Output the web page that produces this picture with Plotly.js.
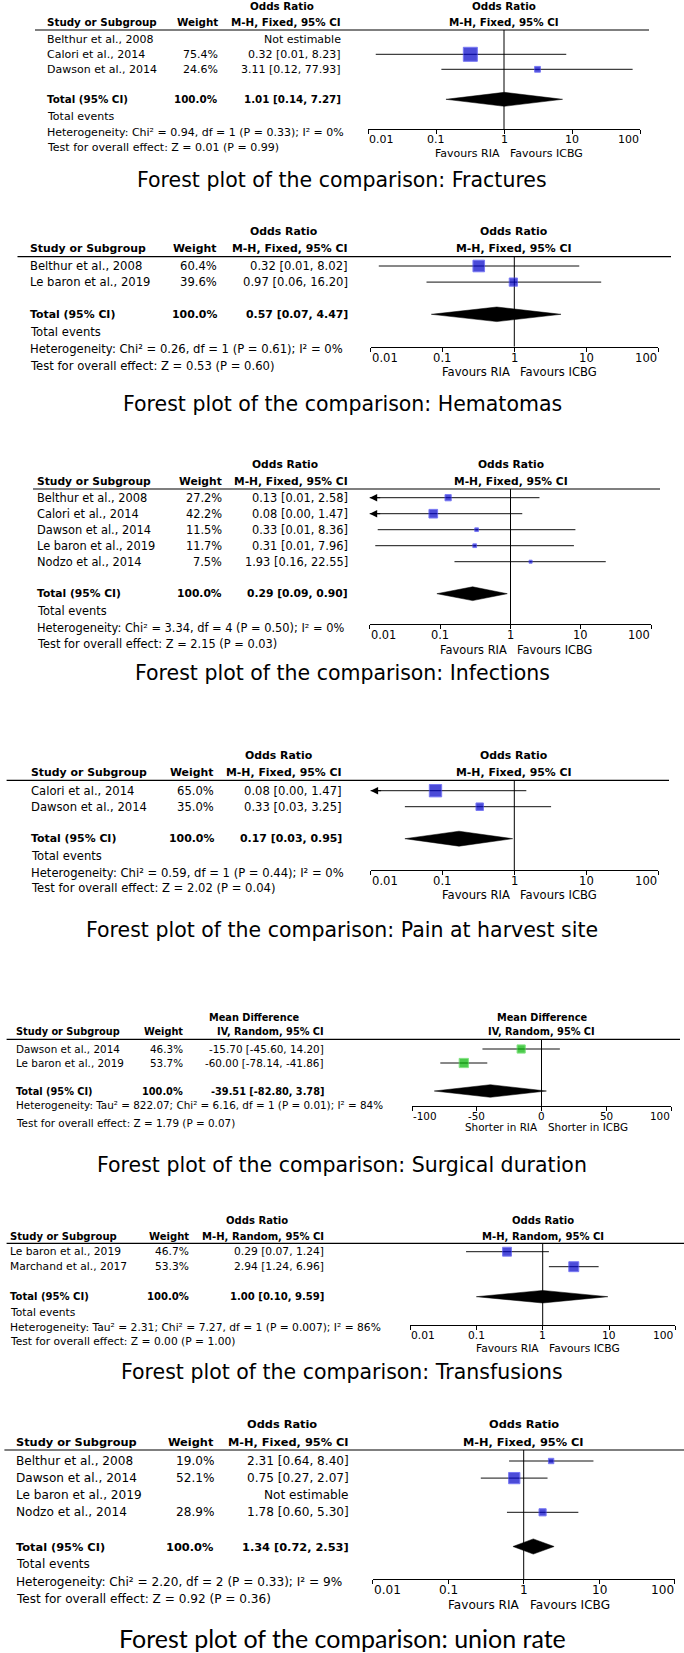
<!DOCTYPE html>
<html>
<head>
<meta charset="utf-8">
<script src="https://cdn.plot.ly/plotly-3.0.1.min.js"></script>
<style>html,body{margin:0;padding:0;background:#fff}#chart{width:684px;height:1653px}</style>
</head>
<body>
<div id="chart"></div>
<script>
// ---------------- DATA ----------------
const titles = [
  "Forest plot of the comparison: Fractures",
  "Forest plot of the comparison: Hematomas",
  "Forest plot of the comparison: Infections",
  "Forest plot of the comparison: Pain at harvest site",
  "Forest plot of the comparison: Surgical duration",
  "Forest plot of the comparison: Transfusions",
  "Forest plot of the comparison: union rate"
];

// Fractures
const fracStudy = ["Belthur et al., 2008", "Calori et al., 2014", "Dawson et al., 2014"];
const fracWeight = [null, 75.4, 24.6];
const fracOR = [null, 0.32, 3.11];
const fracLo = [null, 0.013, 0.12];
const fracHi = [null, 8.23, 77.93];
const fracTotal = [100.0, 1.01, 0.14, 7.27];
const fracHet = "Heterogeneity: Chi² = 0.94, df = 1 (P = 0.33); I² = 0%";
const fracTest = "Test for overall effect: Z = 0.01 (P = 0.99)";

// Hematomas
const hemStudy = ["Belthur et al., 2008", "Le baron et al., 2019"];
const hemWeight = [60.4, 39.6];
const hemOR = [0.32, 0.97];
const hemLo = [0.013, 0.06];
const hemHi = [8.02, 16.20];
const hemTotal = [100.0, 0.57, 0.07, 4.47];
const hemHet = "Heterogeneity: Chi² = 0.26, df = 1 (P = 0.61); I² = 0%";
const hemTest = "Test for overall effect: Z = 0.53 (P = 0.60)";

// Infections
const infStudy = ["Belthur et al., 2008", "Calori et al., 2014", "Dawson et al., 2014", "Le baron et al., 2019", "Nodzo et al., 2014"];
const infWeight = [27.2, 42.2, 11.5, 11.7, 7.5];
const infOR = [0.13, 0.08, 0.33, 0.31, 1.93];
const infLo = [0.007, 0.004, 0.013, 0.012, 0.16];
const infHi = [2.58, 1.47, 8.36, 7.96, 22.55];
const infTotal = [100.0, 0.29, 0.09, 0.90];
const infHet = "Heterogeneity: Chi² = 3.34, df = 4 (P = 0.50); I² = 0%";
const infTest = "Test for overall effect: Z = 2.15 (P = 0.03)";

// Pain at harvest site
const painStudy = ["Calori et al., 2014", "Dawson et al., 2014"];
const painWeight = [65.0, 35.0];
const painOR = [0.08, 0.33];
const painLo = [0.004, 0.03];
const painHi = [1.47, 3.25];
const painTotal = [100.0, 0.17, 0.03, 0.95];
const painHet = "Heterogeneity: Chi² = 0.59, df = 1 (P = 0.44); I² = 0%";
const painTest = "Test for overall effect: Z = 2.02 (P = 0.04)";

// Surgical duration (mean difference)
const durStudy = ["Dawson et al., 2014", "Le baron et al., 2019"];
const durWeight = [46.3, 53.7];
const durMD = [-15.70, -60.00];
const durLo = [-45.60, -78.14];
const durHi = [14.20, -41.86];
const durTotal = [100.0, -39.51, -82.80, 3.78];
const durHet = "Heterogeneity: Tau² = 822.07; Chi² = 6.16, df = 1 (P = 0.01); I² = 84%";
const durTest = "Test for overall effect: Z = 1.79 (P = 0.07)";

// Transfusions
const trfStudy = ["Le baron et al., 2019", "Marchand et al., 2017"];
const trfWeight = [46.7, 53.3];
const trfOR = [0.29, 2.94];
const trfLo = [0.07, 1.24];
const trfHi = [1.24, 6.96];
const trfTotal = [100.0, 1.00, 0.10, 9.59];
const trfHet = "Heterogeneity: Tau² = 2.31; Chi² = 7.27, df = 1 (P = 0.007); I² = 86%";
const trfTest = "Test for overall effect: Z = 0.00 (P = 1.00)";

// Union rate
const uniStudy = ["Belthur et al., 2008", "Dawson et al., 2014", "Le baron et al., 2019", "Nodzo et al., 2014"];
const uniWeight = [19.0, 52.1, null, 28.9];
const uniOR = [2.31, 0.75, null, 1.78];
const uniLo = [0.64, 0.27, null, 0.60];
const uniHi = [8.40, 2.07, null, 5.30];
const uniTotal = [100.0, 1.34, 0.72, 2.53];
const uniHet = "Heterogeneity: Chi² = 2.20, df = 2 (P = 0.33); I² = 9%";
const uniTest = "Test for overall effect: Z = 0.92 (P = 0.36)";

const orTicks = [0.01, 0.1, 1, 10, 100];
const orTickText = ["0.01", "0.1", "1", "10", "100"];
const mdTicks = [-100, -50, 0, 50, 100];
const mdTickText = ["-100", "-50", "0", "50", "100"];
const favOR = ["Favours RIA", "Favours ICBG"];
const favMD = ["Shorter in RIA", "Shorter in ICBG"];

const panels = [
  {study: fracStudy, weight: fracWeight, est: fracOR, lo: fracLo, hi: fracHi, tot: fracTotal, het: fracHet, test: fracTest, measure: "Odds Ratio", method: "M-H, Fixed, 95% CI", scale: "log", fav: favOR, events: true, color: "blue"},
  {study: hemStudy, weight: hemWeight, est: hemOR, lo: hemLo, hi: hemHi, tot: hemTotal, het: hemHet, test: hemTest, measure: "Odds Ratio", method: "M-H, Fixed, 95% CI", scale: "log", fav: favOR, events: true, color: "blue"},
  {study: infStudy, weight: infWeight, est: infOR, lo: infLo, hi: infHi, tot: infTotal, het: infHet, test: infTest, measure: "Odds Ratio", method: "M-H, Fixed, 95% CI", scale: "log", fav: favOR, events: true, color: "blue"},
  {study: painStudy, weight: painWeight, est: painOR, lo: painLo, hi: painHi, tot: painTotal, het: painHet, test: painTest, measure: "Odds Ratio", method: "M-H, Fixed, 95% CI", scale: "log", fav: favOR, events: true, color: "blue"},
  {study: durStudy, weight: durWeight, est: durMD, lo: durLo, hi: durHi, tot: durTotal, het: durHet, test: durTest, measure: "Mean Difference", method: "IV, Random, 95% CI", scale: "linear", fav: favMD, events: false, color: "green"},
  {study: trfStudy, weight: trfWeight, est: trfOR, lo: trfLo, hi: trfHi, tot: trfTotal, het: trfHet, test: trfTest, measure: "Odds Ratio", method: "M-H, Random, 95% CI", scale: "log", fav: favOR, events: true, color: "blue"},
  {study: uniStudy, weight: uniWeight, est: uniOR, lo: uniLo, hi: uniHi, tot: uniTotal, het: uniHet, test: uniTest, measure: "Odds Ratio", method: "M-H, Fixed, 95% CI", scale: "log", fav: favOR, events: true, color: "blue"}
];

// ---------------- LAYOUT GEOMETRY (pixels) ----------------
const W = 684, H = 1653;
const F = "DejaVu Sans, Verdana, sans-serif";
const geo = [
  {h1: 6, h2: 22, rule: 30, ruleX: [35, 649], row1: 39.3, sp: 15, tev: 116.7, het: 132.7, test: 147.3, axis: 129.3, tl: 10.7, fav: 154, title: 180, nameX: 46, wRX: 219, ciRX: 342, h1CX: 282, axX: [368, 640], font: 11.0, dh: 7, mk: 1.0, tf: {family: F, size: 20.5}},
  {h1: 231.7, h2: 248.3, rule: 256.7, ruleX: [17.5, 671], row1: 266, sp: 16.1, tev: 332.3, het: 349.3, test: 366, axis: 346.7, tl: 11.6, fav: 371.7, title: 404, nameX: 28.5, wRX: 218.4, ciRX: 348.7, h1CX: 283.5, axX: [370.6, 658], font: 11.6, dh: 7.3, mk: 1.0, tf: {family: F, size: 20.5}},
  {h1: 464.3, h2: 481, rule: 489, ruleX: [33, 660], row1: 497.7, sp: 16.0, tev: 610.7, het: 628, test: 644, axis: 624, tl: 11, fav: 650, title: 673.3, nameX: 36.4, wRX: 222.8, ciRX: 348.7, h1CX: 285, axX: [369.7, 651.3], font: 11.4, dh: 6.9, mk: 1.0, tf: {family: F, size: 20.5}},
  {h1: 755.7, h2: 772.3, rule: 780.3, ruleX: [6.6, 669], row1: 790.7, sp: 16, tev: 856, het: 872.7, test: 888.3, axis: 870, tl: 10.7, fav: 895, title: 930, nameX: 29.8, wRX: 215, ciRX: 343, h1CX: 278.5, axX: [370.6, 658], font: 11.6, dh: 7.5, mk: 1.0, tf: {family: F, size: 20.5}},
  {h1: 1017.7, h2: 1031.7, rule: 1039.3, ruleX: [6.6, 680], row1: 1049, sp: 14, tev: null, het: 1105, test: 1122.5, axis: 1106, tl: 9.5, fav: 1127, title: 1165, nameX: 15.4, wRX: 184, ciRX: 324.6, h1CX: 254.4, axX: [412, 671], font: 10.4, dh: 6.3, mk: 0.88, tf: {family: F, size: 20.5}},
  {h1: 1220, h2: 1236, rule: 1243.3, ruleX: [6.6, 684], row1: 1251.7, sp: 15, tev: 1312.7, het: 1327.3, test: 1341.7, axis: 1325, tl: 10.3, fav: 1348.3, title: 1371.7, nameX: 8.8, wRX: 189.5, ciRX: 324.6, h1CX: 256.6, axX: [410, 675.4], font: 10.7, dh: 6.3, mk: 0.95, tf: {family: F, size: 20.5}},
  {h1: 1424.3, h2: 1441.7, rule: 1450, ruleX: [4.4, 684], row1: 1461, sp: 17.1, tev: 1564.3, het: 1581.7, test: 1599, axis: 1579, tl: 11, fav: 1605, title: 1638, nameX: 15.4, wRX: 215, ciRX: 350, h1CX: 282, axX: [372.8, 674.6], font: 12.1, dh: 7.6, mk: 1.1, tf: {family: "Lato, Open Sans, sans-serif", size: 25}}
];
const BOLD = 0.94; // bold glyphs of the fallback font run wider than the original

const COLORS = {
  blue: {fill: "#0000c8", edge: "#4040f0"},
  green: {fill: "#00b400", edge: "#50d850"}
};

// ---------------- BUILD ----------------
const traces = [], shapes = [], annotations = [];
const layout = {
  width: W, height: H, margin: {l: 0, r: 0, t: 0, b: 0},
  paper_bgcolor: "#fff", plot_bgcolor: "rgba(0,0,0,0)",
  showlegend: false, hovermode: false
};
const py = px => 1 - px / H;
const pxX = px => px / W;
const f2 = v => v.toFixed(2);
const ci = (e, l, h) => f2(e) + " [" + f2(l) + ", " + f2(h) + "]";

function note(text, x, xref, y, yref, xanchor, size, extra) {
  annotations.push(Object.assign({
    text: text, x: x, y: y, xref: xref, yref: yref,
    xanchor: xanchor, yanchor: "middle", showarrow: false,
    font: {family: F, size: size, color: "#000"}, borderpad: 0
  }, extra || {}));
}

panels.forEach((p, i) => {
  const g = geo[i];
  const sfx = i === 0 ? "" : String(i + 1);
  const xa = "x" + sfx, ya = "y" + sfx;
  const row = px => (px - g.row1) / g.sp + 1;
  const rTop = row(g.rule), rBot = row(g.axis);
  const isLog = p.scale === "log";
  const xr = isLog ? [-2, 2] : [-100, 100];
  const xmin = isLog ? Math.pow(10, xr[0]) : xr[0];
  const nullEffect = isLog ? 1 : 0;
  const toAnn = v => isLog ? Math.log10(v) : v; // annotation coordinate on this axis
  const fs = g.font, fb = g.font * BOLD;
  const tv = isLog ? orTicks : mdTicks;
  const tt = isLog ? orTickText : mdTickText;

  layout["yaxis" + sfx] = {
    domain: [py(g.axis), py(g.rule)], range: [rBot, rTop],
    visible: false, showgrid: false, zeroline: false, fixedrange: true
  };
  layout["xaxis" + sfx] = {
    domain: [pxX(g.axX[0]), pxX(g.axX[1])], anchor: ya,
    type: isLog ? "log" : "linear", range: xr,
    showline: true, linecolor: "#000", linewidth: 1,
    ticks: "outside", ticklen: 4, tickcolor: "#000", tickwidth: 1,
    tickmode: "array", tickvals: tv, ticktext: tt, showticklabels: false,
    showgrid: false, zeroline: false, fixedrange: true
  };
  // tick labels: end labels sit inside the axis span, as in the original
  tv.forEach((v, j) => {
    const anchor = j === 0 ? "left" : (j === tv.length - 1 ? "right" : "center");
    note(tt[j], toAnn(v), xa, py(g.axis + g.tl), "paper", anchor, fs);
  });

  const n = p.study.length;
  const totRow = n + 2;
  const lx = [], ly = [], mx = [], my = [], ms = [];
  p.est.forEach((e, j) => {
    if (e === null) return;
    lx.push(p.lo[j], p.hi[j], null);
    ly.push(j + 1, j + 1, null);
    mx.push(e); my.push(j + 1);
    ms.push((1.8 + 0.162 * p.weight[j]) * g.mk);
    if (p.lo[j] < xmin) {
      annotations.push({
        x: xr[0], y: j + 1, xref: xa, yref: ya, text: "",
        showarrow: true, ax: 12, ay: 0, axref: "pixel", ayref: "pixel",
        arrowhead: 2, arrowsize: 1.5, arrowwidth: 1, arrowcolor: "#000", standoff: 0
      });
    }
  });

  // confidence interval lines
  traces.push({type: "scatter", mode: "lines", x: lx, y: ly, xaxis: xa, yaxis: ya,
    line: {color: "#111", width: 1}, hoverinfo: "skip", connectgaps: false});
  // line of no effect
  traces.push({type: "scatter", mode: "lines", x: [nullEffect, nullEffect], y: [rTop, rBot],
    xaxis: xa, yaxis: ya, line: {color: "#000", width: 1}, hoverinfo: "skip", cliponaxis: false});
  // study estimates
  const c = COLORS[p.color];
  traces.push({type: "scatter", mode: "markers", x: mx, y: my, xaxis: xa, yaxis: ya,
    marker: {symbol: "square", size: ms, color: c.fill, line: {color: c.edge, width: 1}},
    hoverinfo: "skip"});
  // pooled diamond
  const t = p.tot;
  const hh = g.dh / g.sp;
  traces.push({type: "scatter", mode: "lines", fill: "toself", fillcolor: "#000",
    x: [t[2], t[1], t[3], t[1], t[2]], y: [totRow, totRow - hh, totRow, totRow + hh, totRow],
    xaxis: xa, yaxis: ya, line: {color: "#000", width: 0.5}, hoverinfo: "skip"});

  // horizontal rule under header
  shapes.push({type: "line", xref: "paper", yref: "paper",
    x0: pxX(g.ruleX[0]), x1: pxX(g.ruleX[1]), y0: py(g.rule), y1: py(g.rule),
    line: {color: "#000", width: 1.2}});

  // headers (left table)
  note("<b>" + p.measure + "</b>", pxX(g.h1CX), "paper", py(g.h1), "paper", "center", fb);
  note("<b>Study or Subgroup</b>", pxX(g.nameX), "paper", py(g.h2), "paper", "left", fb);
  note("<b>Weight</b>", pxX(g.wRX), "paper", py(g.h2), "paper", "right", fb);
  note("<b>" + p.method + "</b>", pxX(g.ciRX), "paper", py(g.h2), "paper", "right", fb);
  // headers (plot)
  note("<b>" + p.measure + "</b>", toAnn(nullEffect), xa, py(g.h1), "paper", "center", fb);
  note("<b>" + p.method + "</b>", toAnn(nullEffect), xa, py(g.h2), "paper", "center", fb);

  // study rows
  p.study.forEach((s, j) => {
    note(s, pxX(g.nameX), "paper", j + 1, ya, "left", fs);
    if (p.est[j] === null) {
      note("Not estimable", pxX(g.ciRX), "paper", j + 1, ya, "right", fs);
    } else {
      note(p.weight[j].toFixed(1) + "%", pxX(g.wRX), "paper", j + 1, ya, "right", fs);
      note(ci(p.est[j], p.lo[j], p.hi[j]), pxX(g.ciRX), "paper", j + 1, ya, "right", fs);
    }
  });
  // total row
  note("<b>Total (95% CI)</b>", pxX(g.nameX), "paper", totRow, ya, "left", fb);
  note("<b>" + t[0].toFixed(1) + "%</b>", pxX(g.wRX), "paper", totRow, ya, "right", fb);
  note("<b>" + ci(t[1], t[2], t[3]) + "</b>", pxX(g.ciRX), "paper", totRow, ya, "right", fb);
  // footer
  if (p.events) note("Total events", pxX(g.nameX), "paper", py(g.tev), "paper", "left", fs);
  note(p.het, pxX(g.nameX), "paper", py(g.het), "paper", "left", fs);
  note(p.test, pxX(g.nameX), "paper", py(g.test), "paper", "left", fs);
  // favours labels
  note(p.fav[0], toAnn(nullEffect), xa, py(g.fav), "paper", "right", fs, {xshift: -3});
  note(p.fav[1], toAnn(nullEffect), xa, py(g.fav), "paper", "left", fs, {xshift: 5});
  // panel title
  annotations.push({text: titles[i], x: 0.5, y: py(g.title), xref: "paper", yref: "paper",
    xanchor: "center", yanchor: "middle", showarrow: false, borderpad: 0,
    font: {family: g.tf.family, size: g.tf.size, color: "#000"}});
});

layout.shapes = shapes;
layout.annotations = annotations;

Plotly.newPlot("chart", traces, layout, {staticPlot: true, displayModeBar: false});
</script>
</body>
</html>
